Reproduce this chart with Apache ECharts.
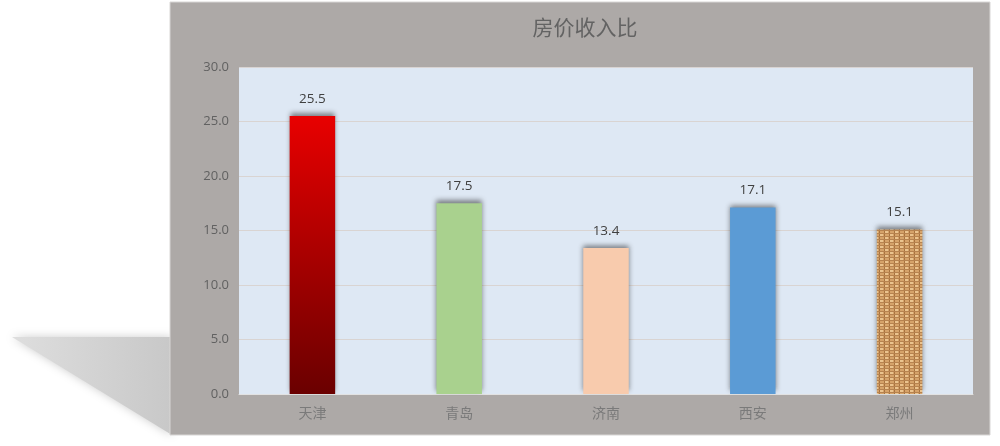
<!DOCTYPE html>
<html>
<head>
<meta charset="utf-8">
<script src="https://cdn.jsdelivr.net/npm/echarts@6/dist/echarts.min.js"></script>
<style>
html,body{margin:0;padding:0;background:#fff;}
#c{width:1000px;height:446px;}
</style>
</head>
<body>
<div id="c"></div>
<script>
var titleText = '房价收入比';
var categories = ['天津', '青岛', '济南', '西安', '郑州'];
var values = [25.5, 17.5, 13.4, 17.1, 15.1];
var yTicks = [0, 5, 10, 15, 20, 25, 30];

// burlap texture pattern for the last bar
function makeBurlap() {
  var cv = document.createElement('canvas');
  cv.width = 10; cv.height = 6;
  var g = cv.getContext('2d');
  g.fillStyle = '#D6A36A'; g.fillRect(0, 0, 10, 6);
  g.fillStyle = '#EBC48F';
  g.fillRect(0, 0, 3, 2); g.fillRect(5, 3, 3, 2);
  g.fillStyle = '#A8733F';
  g.fillRect(4, 0, 1, 6); g.fillRect(9, 0, 1, 6);
  g.fillStyle = '#B7834F';
  g.fillRect(0, 2, 10, 1); g.fillRect(0, 5, 10, 1);
  return cv;
}

var barColors = [
  new echarts.graphic.LinearGradient(0, 0, 0, 1, [
    {offset: 0, color: '#E80000'},
    {offset: 1, color: '#6A0000'}
  ]),
  '#A9D18E',
  '#F8CBAD',
  '#5B9BD5',
  {image: makeBurlap(), repeat: 'repeat'}
];

var chart = echarts.init(document.getElementById('c'), null, {renderer: 'canvas'});
chart.setOption({
  backgroundColor: '#ffffff',
  animation: false,
  graphic: [
    {
      type: 'polygon', z: -10,
      shape: {points: [[12, 337], [172, 337], [172, 435]]},
      style: {
        fill: new echarts.graphic.LinearGradient(0, 0, 1, 0, [
          {offset: 0, color: '#DEDEDE'},
          {offset: 1, color: '#C8C8C8'}
        ]),
        shadowBlur: 10, shadowColor: 'rgba(170,170,170,0.6)'
      }
    },
    {
      type: 'rect', z: -9,
      shape: {x: 170, y: 2, width: 820, height: 433},
      style: {fill: '#ADA9A7', stroke: '#D8D6D5', lineWidth: 1}
    }
  ],
  title: {
    text: titleText,
    left: 580, top: 12, textAlign: 'center',
    textStyle: {color: '#636363', fontSize: 21, fontWeight: 'normal', fontFamily: 'Noto Sans CJK SC'}
  },
  grid: {
    left: 239, right: 27, top: 67, bottom: 52,
    show: true, backgroundColor: '#DEE8F4', borderWidth: 0
  },
  xAxis: {
    type: 'category',
    data: categories,
    axisLine: {show: true, lineStyle: {color: '#E2E2E2', width: 1}},
    axisTick: {show: false},
    axisLabel: {color: '#7A7A7A', fontSize: 14, margin: 12, fontFamily: 'Noto Sans CJK SC'}
  },
  yAxis: {
    type: 'value',
    min: yTicks[0], max: yTicks[yTicks.length - 1], interval: 5,
    axisLine: {show: false},
    axisTick: {show: false},
    splitLine: {lineStyle: {color: '#D9D4D2', width: 1}},
    axisLabel: {
      color: '#616161', fontSize: 13, margin: 10, fontFamily: 'Open Sans',
      formatter: function (v) { return v.toFixed(1); }
    }
  },
  series: [{
    type: 'bar',
    barWidth: '31%',
    data: values.map(function (v, i) {
      return {value: v, itemStyle: {color: barColors[i]}};
    }),
    itemStyle: {
      shadowColor: 'rgba(40,40,40,0.55)', shadowBlur: 5, shadowOffsetY: -3
    },
    label: {
      show: true, position: 'top', distance: 10,
      color: '#404040', fontSize: 13.5, fontFamily: 'Open Sans',
      formatter: function (p) { return p.value.toFixed(1); }
    }
  }]
});
</script>
</body>
</html>
